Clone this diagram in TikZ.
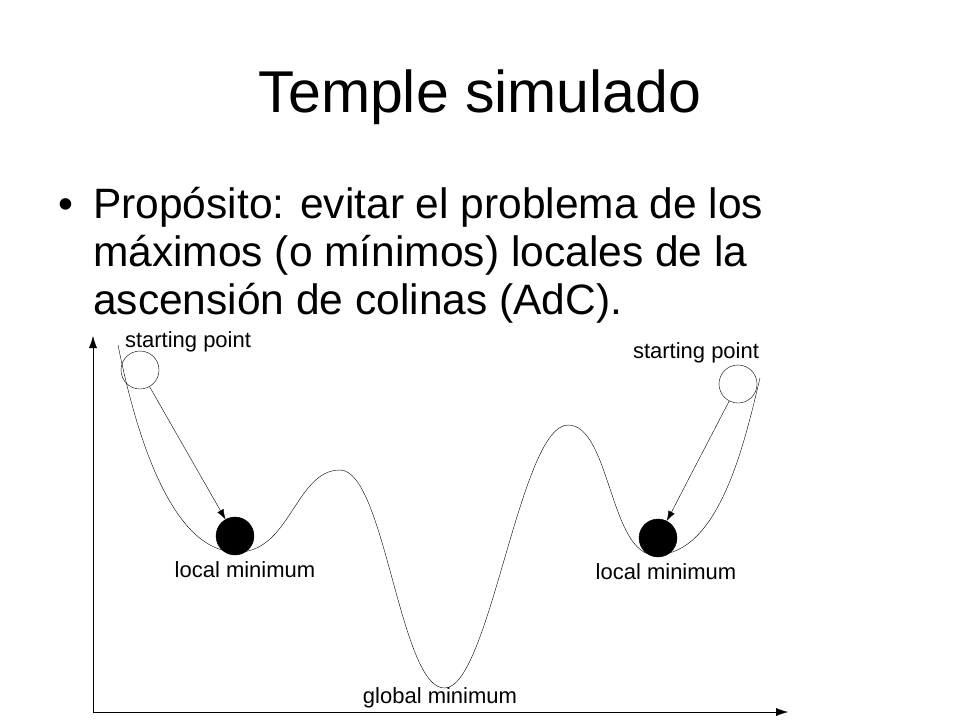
\documentclass[tikz,border=0pt]{standalone}
\usepackage{fontspec}
\setmainfont{Liberation Sans}
\usetikzlibrary{arrows.meta}
\begin{document}
\begin{tikzpicture}[x=1pt,y=-1pt,
  lbl/.style={font=\fontsize{22}{24}\selectfont,inner sep=0},
  body/.style={font=\fontsize{42.5}{48}\selectfont,anchor=base west,inner sep=0},
  ball/.style={circle,draw,minimum size=38pt,inner sep=0},
  ax/.style={draw,-{Latex[length=12pt,width=8pt]}}]
\useasboundingbox (0,0) rectangle (960,720);
\node[font=\fontsize{59}{64}\selectfont,anchor=base,inner sep=0] (title) at (480,112) {Temple simulado};
\node[body] (bul) at (58,218) {•};
\node[body] (l1) at (93,218) {Propósito: evitar el problema de los};
\node[body] (l2) at (93,266) {máximos (o mínimos) locales de la};
\node[body] (l3) at (93,314) {ascensión de colinas (AdC).};
\coordinate (o) at (93,712);
\coordinate (ytop) at (93,336);
\coordinate (xend) at (788,712);
\draw[ax] (o) -- (ytop);
\draw[ax] (o) -- (xend);
\draw (118,345) .. controls (135,430) and (170,550) .. (235,552)
  .. controls (290,555) and (295,470) .. (340,470)
  .. controls (385,470) and (400,690) .. (445,688)
  .. controls (490,686) and (520,425) .. (568,425)
  .. controls (610,425) and (610,555) .. (655,555)
  .. controls (720,555) and (745,440) .. (760,378);
\node[ball] (s1) at (140,370) {};
\node[ball] (s2) at (738,384) {};
\node[ball,fill=black] (m1) at (235,536) {};
\node[ball,fill=black] (m2) at (658,538) {};
\draw[-{Latex[length=10pt,width=7pt]}] (s1) -- (m1);
\draw[-{Latex[length=10pt,width=7pt]}] (s2) -- (m2);
\node[lbl] (t1) at (188,342) {starting point};
\node[lbl] (t2) at (696,353) {starting point};
\node[lbl] (t3) at (245,570) {local minimum};
\node[lbl] (t4) at (666,572) {local minimum};
\node[lbl] (t5) at (440,698) {global minimum};
\end{tikzpicture}
\end{document}
